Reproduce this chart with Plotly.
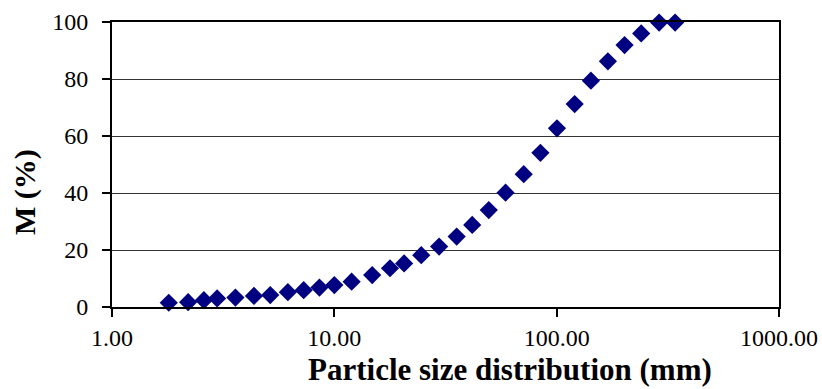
import plotly.graph_objects as go

size_mm = [1.80, 2.20, 2.59, 2.97, 3.59, 4.35, 5.15, 6.18, 7.28, 8.57, 10.0, 11.96,
           14.8, 17.8, 20.6, 24.6, 29.6, 35.5, 41.7, 49.5, 58.9, 71.1, 84.5, 100.3,
           120.5, 142.6, 170.0, 202.0, 240.0, 289.0, 341.0]
passing_pct = [1.5, 1.7, 2.4, 3.0, 3.3, 3.9, 4.2, 5.2, 5.9, 6.8, 7.7, 8.9,
               11.2, 13.6, 15.3, 18.2, 21.2, 24.7, 28.8, 34.0, 40.1, 46.6, 54.1, 62.7,
               71.2, 79.4, 86.2, 91.9, 96.0, 99.8, 99.8]
x_tickvals = [1, 10, 100, 1000]
x_ticktext = ["1.00", "10.00", "100.00", "1000.00"]
y_tickvals = [0, 20, 40, 60, 80, 100]
x_title = "Particle size distribution (mm)"
y_title = "M (%)"

FONT = "Liberation Serif, Times New Roman, serif"

fig = go.Figure(go.Scatter(
    x=size_mm, y=passing_pct, mode="markers",
    marker=dict(symbol="diamond", size=14, color="#000080", line=dict(width=0)),
    showlegend=False, cliponaxis=False,
))

fig.update_layout(
    width=822, height=389,
    margin=dict(l=112, r=43, t=22, b=82, autoexpand=False),
    paper_bgcolor="white", plot_bgcolor="white",
    font=dict(family=FONT, color="black", size=24),
    xaxis=dict(
        type="log", range=[0, 3],
        tickvals=x_tickvals, ticktext=x_ticktext,
        ticks="outside", ticklen=8, tickwidth=1.5, tickcolor="black",
        showline=True, linecolor="black", linewidth=2, mirror=True,
        showgrid=False, zeroline=False,
        tickfont=dict(size=24, family=FONT),
    ),
    yaxis=dict(
        range=[0, 100], tickvals=y_tickvals,
        ticks="outside", ticklen=8, tickwidth=1.5, tickcolor="black",
        ticklabelstandoff=9,
        showline=True, linecolor="black", linewidth=2, mirror=True,
        showgrid=True, gridcolor="#333333", gridwidth=1, zeroline=False,
        tickfont=dict(size=24, family=FONT),
    ),
    annotations=[
        dict(text="<b>" + x_title + "</b>", xref="paper", yref="paper",
             x=0.596, y=-0.221, xanchor="center", yanchor="middle",
             showarrow=False, font=dict(size=31, family=FONT)),
        dict(text="<b>" + y_title + "</b>", xref="paper", yref="paper",
             x=-0.1304, y=0.4035, xanchor="center", yanchor="middle",
             textangle=-90, showarrow=False, font=dict(size=30, family=FONT)),
    ],
)

fig.write_html(
    "out.html",
    config={"displayModeBar": False},
    post_script=("document.body.style.margin='0';"
                 "document.body.style.overflow='hidden';"
                 "document.documentElement.style.overflow='hidden';"),
)
